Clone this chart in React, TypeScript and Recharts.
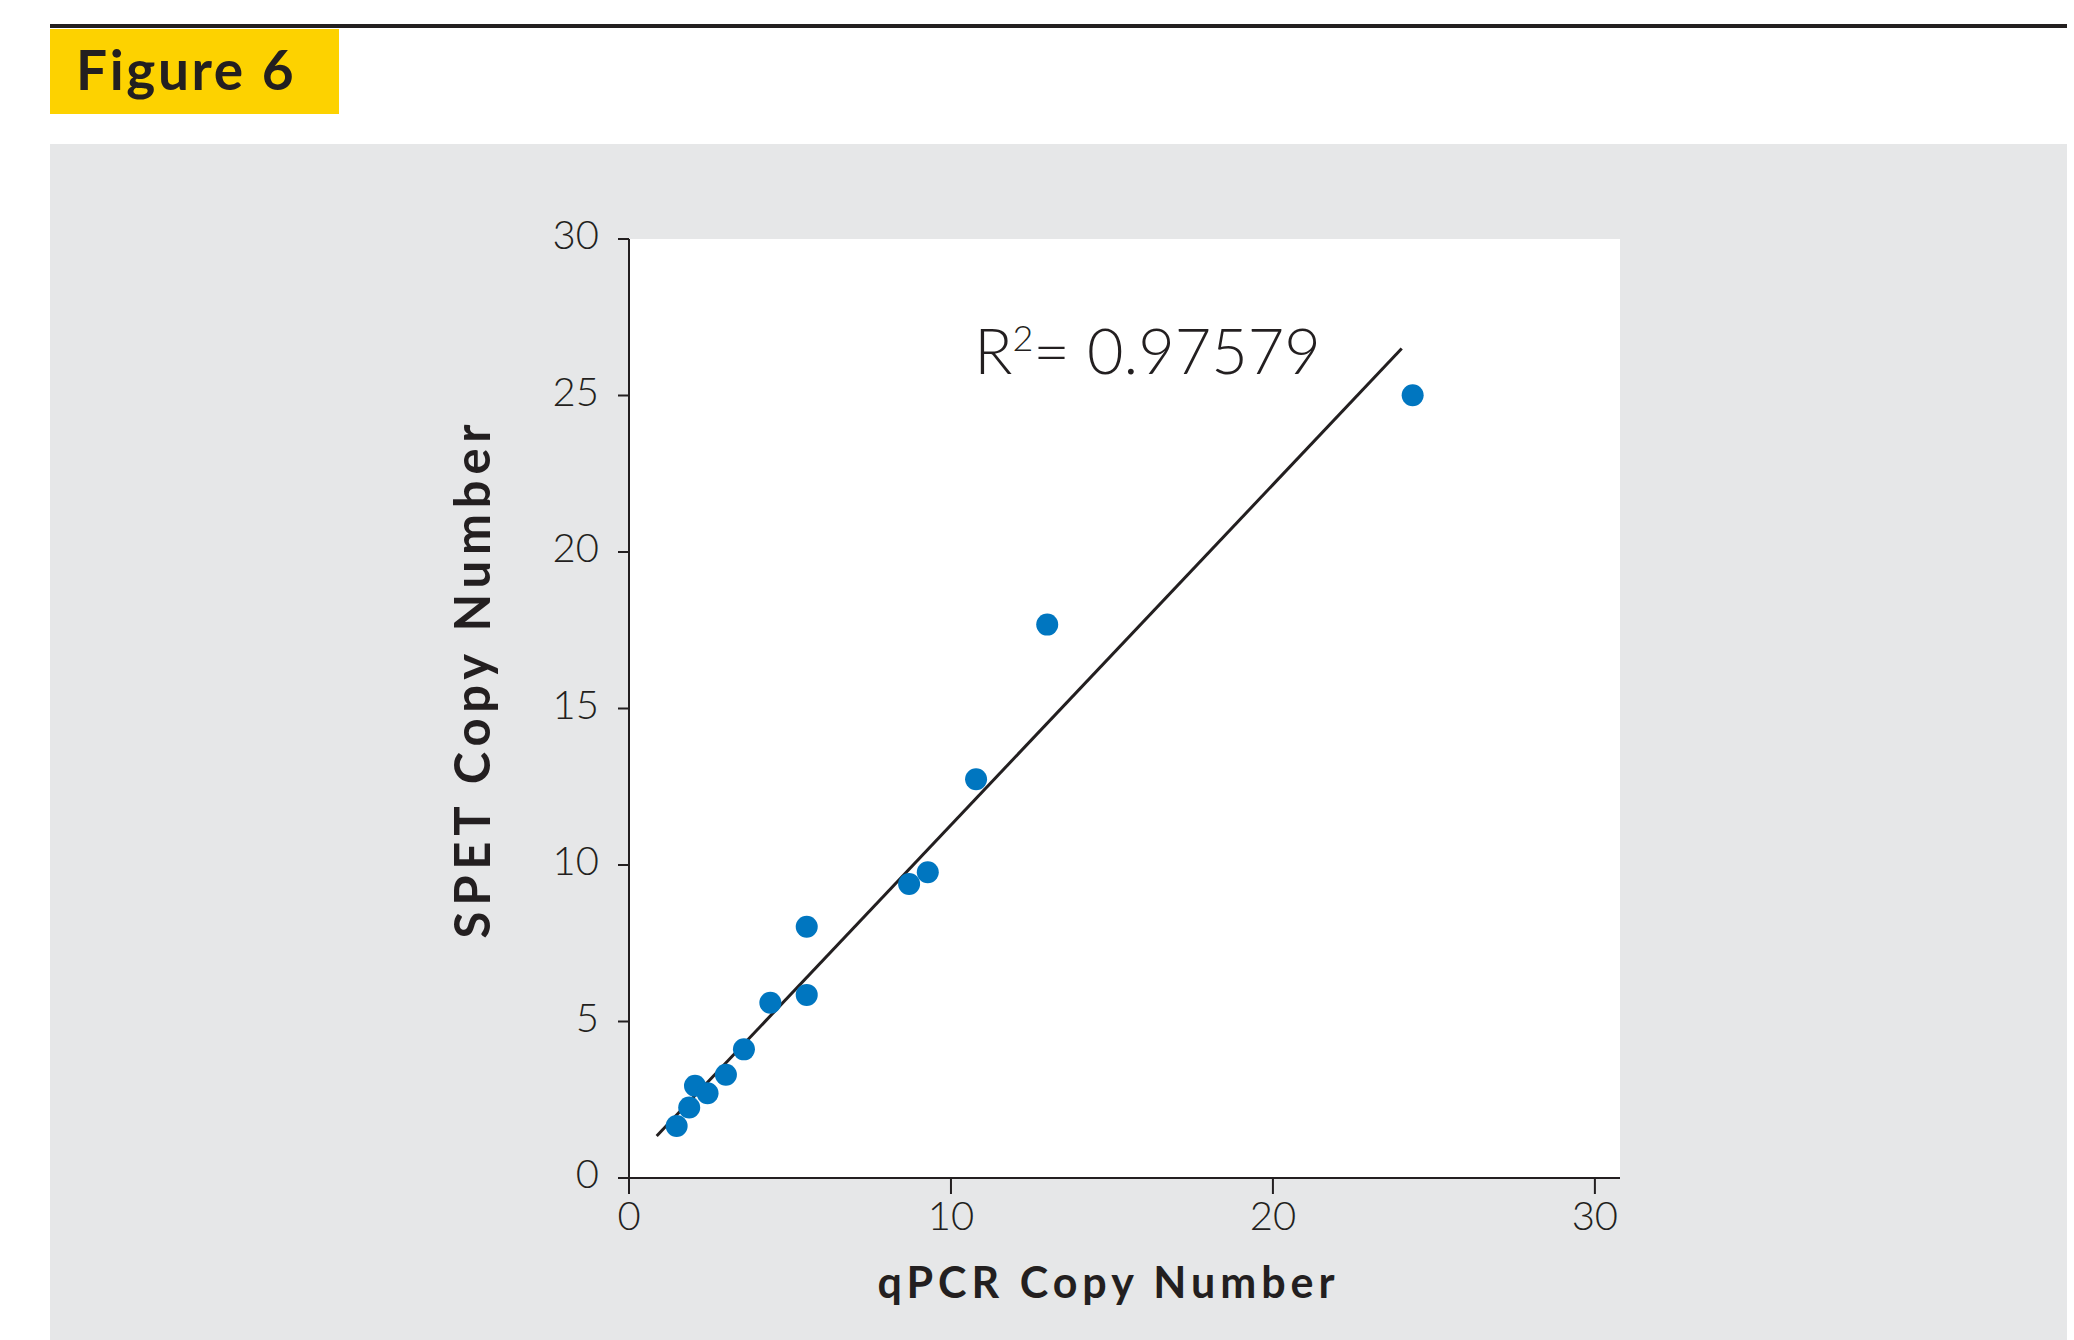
import React from 'react';
import {
  ScatterChart,
  Scatter,
  XAxis,
  YAxis,
  CartesianGrid,
  ReferenceLine,
  ReferenceDot,
  Label,
} from 'recharts';

// ---- Data ----
const qpcrCopyNumber = [1.48, 1.87, 2.05, 2.44, 3.01, 3.57, 4.39, 5.52, 5.52, 8.7, 9.28, 10.78, 12.99, 24.34];
const spetCopyNumber = [1.66, 2.25, 2.95, 2.71, 3.3, 4.11, 5.6, 5.85, 8.03, 9.39, 9.77, 12.74, 17.68, 25.01];
const xTicks = [0, 10, 20, 30];
const yTicks = [0, 5, 10, 15, 20, 25, 30];
const fitStart = { x: 0.86, y: 1.34 };
const fitEnd = { x: 24.0, y: 26.5 };
const rSquaredValue = '0.97579';
const annotationAnchor = { x: 10.72, y: 25.68 };
const figureTitle = 'Figure 6';
const xAxisTitle = 'qPCR Copy Number';
const yAxisTitle = 'SPET Copy Number';

const points = qpcrCopyNumber.map((x, i) => ({ x, y: spetCopyNumber[i] }));

const INK = '#231f20';
const BLUE = '#0076c0';
const FONT = 'Lato, "Open Sans", sans-serif';

const dotShape = (p: any) => <circle cx={p.cx} cy={p.cy} r={11} fill={BLUE} />;

const renderXTitle = (props: any) => {
  const vb = props.viewBox;
  return (
    <text
      x={vb.x + vb.width / 2 - 16}
      y={vb.y + vb.height}
      textAnchor="middle"
      fontFamily={FONT}
      fontWeight={700}
      fontSize={43}
      letterSpacing={5}
      fill={INK}
    >
      {xAxisTitle}
    </text>
  );
};

const renderYTitle = (props: any) => {
  const vb = props.viewBox;
  const x = vb.x - 39;
  const y = vb.y + vb.height / 2 - 30;
  return (
    <text
      x={x}
      y={y}
      transform={`rotate(-90, ${x}, ${y})`}
      textAnchor="middle"
      fontFamily={FONT}
      fontWeight={700}
      fontSize={49}
      letterSpacing={5.8}
      fill={INK}
    >
      {yAxisTitle}
    </text>
  );
};

const renderAnnotation = (props: any) => {
  const vb = props.viewBox;
  const x = vb.x + (vb.width || 0) / 2;
  const y = vb.y + (vb.height || 0) / 2;
  return (
    <text x={x} y={y} fontFamily={FONT} fontWeight={300} fontSize={63} fill={INK}>
      <tspan>R</tspan>
      <tspan dy={-23} fontSize={36}>2</tspan>
      <tspan dy={23} fontSize={63}>{`= ${rSquaredValue}`}</tspan>
    </text>
  );
};

export default function App() {
  const tickStyle = { fontFamily: FONT, fontSize: 40, fontWeight: 300, fill: INK };
  return (
    <div
      style={{
        position: 'absolute',
        left: 0,
        top: 0,
        width: 2074,
        height: 1340,
        background: '#ffffff',
        overflow: 'hidden',
      }}
    >
      <div style={{ position: 'absolute', left: 50, top: 24, width: 2017, height: 4, background: INK }} />
      <div style={{ position: 'absolute', left: 50, top: 29, width: 289, height: 85, background: '#fdd200' }}>
        <span
          style={{
            position: 'absolute',
            left: 26,
            top: 13,
            fontFamily: FONT,
            fontWeight: 700,
            fontSize: 55,
            lineHeight: '55px',
            letterSpacing: 2.6,
            color: INK,
            whiteSpace: 'nowrap',
          }}
        >
          {figureTitle}
        </span>
      </div>
      <div style={{ position: 'absolute', left: 50, top: 144, width: 2017, height: 1196, background: '#e6e7e8' }} />
      <div style={{ position: 'absolute', left: 0, top: 0 }}>
        <ScatterChart width={2074} height={1340} margin={{ top: 239, right: 454, bottom: 42, left: 529 }}>
          <CartesianGrid fill="#ffffff" horizontal={false} vertical={false} />
          <XAxis
            type="number"
            dataKey="x"
            domain={[0, 30.78]}
            allowDataOverflow
            ticks={xTicks}
            interval={0}
            height={120}
            tickSize={16}
            tickMargin={8}
            axisLine={{ stroke: INK, strokeWidth: 2 }}
            tickLine={{ stroke: INK, strokeWidth: 2 }}
            tick={tickStyle}
            label={<Label content={renderXTitle} />}
          />
          <YAxis
            type="number"
            dataKey="y"
            domain={[0, 30]}
            allowDataOverflow
            ticks={yTicks}
            interval={0}
            width={100}
            tickSize={11}
            tickMargin={19}
            axisLine={{ stroke: INK, strokeWidth: 2 }}
            tickLine={{ stroke: INK, strokeWidth: 2 }}
            tick={{ ...tickStyle, dy: -4 }}
            label={<Label content={renderYTitle} />}
          />
          <ReferenceLine segment={[fitStart, fitEnd]} stroke={INK} strokeWidth={3} />
          <Scatter data={points} shape={dotShape} isAnimationActive={false} />
          <ReferenceDot
            x={annotationAnchor.x}
            y={annotationAnchor.y}
            r={0}
            fill="none"
            stroke="none"
            label={<Label content={renderAnnotation} />}
          />
        </ScatterChart>
      </div>
    </div>
  );
}
